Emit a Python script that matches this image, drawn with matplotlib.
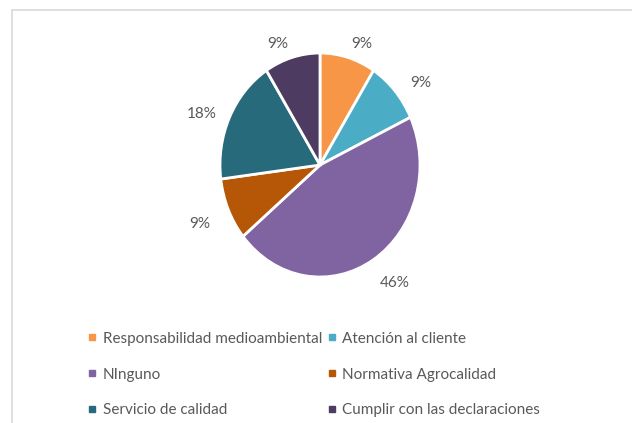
import matplotlib
matplotlib.use('Agg')
import matplotlib.pyplot as plt
from matplotlib.lines import Line2D
from matplotlib.patches import Rectangle
import numpy as np

categories = ['Responsabilidad medioambiental', 'Atención al cliente', 'NInguno',
              'Normativa Agrocalidad', 'Servicio de calidad', 'Cumplir con las declaraciones']
values = [9, 9, 46, 9, 18, 9]
colors = ['#F79646', '#4BACC6', '#8064A2', '#B65708', '#276A7C', '#4D3B62']
txt_col = '#595959'

plt.rcParams['font.family'] = ['Lato', 'DejaVu Sans']

W, H = 632, 423
fig = plt.figure(figsize=(W / 100, H / 100), dpi=100)

# light frame like the Excel chart area
fig.patches.append(Rectangle((12 / W, -0.01), 1.0, (H - 10) / H + 0.01, transform=fig.transFigure,
                             fill=False, edgecolor='#d9d9d9', lw=1.2))

# pie axes: centre (320,165) px, slightly stretched vertically
cx, cy = 320, 165
rx, ry = 100, 112
aw, ah = 2.5 * rx, 2.5 * ry
ax = fig.add_axes([(cx - aw / 2) / W, (H - cy - ah / 2) / H, aw / W, ah / H])
wedges, _ = ax.pie(values, colors=colors, startangle=90, counterclock=False,
                   wedgeprops=dict(edgecolor='white', linewidth=2))
ax.set_aspect('auto')
ax.set_xlim(-1.25, 1.25)
ax.set_ylim(-1.25, 1.25)

# percentage labels just outside the slice edge ("outside end")
for w, v in zip(wedges, values):
    ang = np.deg2rad((w.theta1 + w.theta2) / 2)
    c, s = np.cos(ang), np.sin(ang)
    dx = 24 * np.sign(c) * np.sqrt(abs(c))
    dy = 14 * s - 6
    ax.annotate(f'{v}%', (1.06 * c, 1.06 * s), xytext=(dx * 0.72, dy * 0.72),
                textcoords='offset points', ha='center', va='center',
                fontsize=11, color=txt_col)

handles = [Line2D([], [], marker='s', linestyle='none', markersize=5,
                  markerfacecolor=c, markeredgecolor=c) for c in colors]
# order: row-wise for two columns
order = [0, 2, 4, 1, 3, 5]
fig.legend([handles[i] for i in order], [categories[i] for i in order],
           loc='upper left', bbox_to_anchor=(74 / W, 1 - 318 / H), ncol=2,
           frameon=False, fontsize=11, labelcolor=txt_col,
           handlelength=0.6, handletextpad=0.4, labelspacing=1.43, columnspacing=0.3)

fig.savefig('out.png', dpi=100)
